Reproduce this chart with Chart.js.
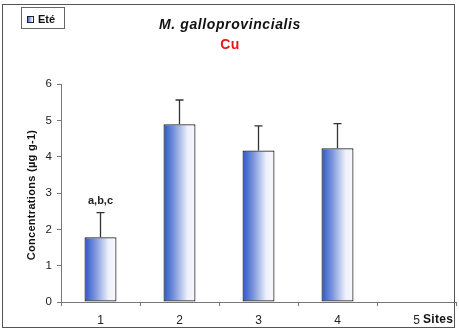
<!DOCTYPE html>
<html>
<head>
<meta charset="utf-8">
<script src="https://cdn.jsdelivr.net/npm/chart.js@4"></script>
<style>
html,body{margin:0;padding:0;background:#fff;}
#wrap{position:relative;width:459px;height:331px;}
</style>
</head>
<body>
<div id="wrap"><canvas id="c" width="459" height="331"></canvas></div>
<script>
const categories = ['1', '2', '3', '4', '5'];
const seriesLabel = 'Eté';
const values = [1.78, 4.89, 4.17, 4.23, null];
const errors = [0.68, 0.67, 0.68, 0.68, null];
const yTicks = [0, 1, 2, 3, 4, 5, 6];
const barNotes = ['a,b,c', '', '', '', ''];
const titleText = 'M. galloprovincialis';
const subtitleText = 'Cu';
const yTitle = 'Concentrations (µg g-1)';
const xTitle = 'Sites';

const FONT = '"Liberation Sans", Arial, sans-serif';
const BAR_PCT = 0.405;

function barGradient(ctx, x0, x1) {
  if (!isFinite(x0) || !isFinite(x1) || x1 <= x0) return '#6f8ad8';
  const g = ctx.createLinearGradient(x0, 0, x1, 0);
  g.addColorStop(0, '#2a56c8');
  g.addColorStop(0.35, '#7f98de');
  g.addColorStop(0.75, '#eef1fb');
  g.addColorStop(1, '#f8f9fe');
  return g;
}

const decor = {
  id: 'decor',
  afterDatasetsDraw(chart) {
    const ctx = chart.ctx;
    const meta = chart.getDatasetMeta(0);
    const y = chart.scales.y;
    ctx.save();
    meta.data.forEach((el, i) => {
      if (values[i] == null) return;
      const top = y.getPixelForValue(values[i] + errors[i]);
      ctx.strokeStyle = '#333';
      ctx.lineWidth = 1.3;
      ctx.beginPath();
      ctx.moveTo(el.x, el.y);
      ctx.lineTo(el.x, top);
      ctx.moveTo(el.x - 4, top);
      ctx.lineTo(el.x + 4, top);
      ctx.stroke();
      if (barNotes[i]) {
        ctx.fillStyle = '#222';
        ctx.font = 'bold 11px ' + FONT;
        ctx.textAlign = 'center';
        ctx.textBaseline = 'alphabetic';
        ctx.fillText(barNotes[i], el.x, top - 9);
      }
    });
    ctx.restore();
  },
  afterDraw(chart) {
    const ctx = chart.ctx;
    ctx.save();
    ctx.strokeStyle = '#555';
    ctx.lineWidth = 1;
    ctx.strokeRect(2.5, 4.5, 452, 323);
    ctx.textAlign = 'center';
    ctx.textBaseline = 'alphabetic';
    ctx.fillStyle = '#111';
    ctx.font = 'italic bold 14px ' + FONT;
    ctx.letterSpacing = '0.6px';
    ctx.fillText(titleText, 230, 29);
    ctx.fillStyle = '#e8141a';
    ctx.font = 'bold 14px ' + FONT;
    ctx.letterSpacing = '0.3px';
    ctx.fillText(subtitleText, 230, 49);
    ctx.letterSpacing = '0px';
    ctx.strokeStyle = '#666';
    ctx.strokeRect(21.5, 7.5, 43, 21);
    ctx.fillStyle = barGradient(ctx, 27, 34);
    ctx.fillRect(27, 17, 7, 6);
    ctx.strokeStyle = '#222';
    ctx.strokeRect(27.5, 16.5, 6, 6);
    ctx.fillStyle = '#111';
    ctx.font = 'bold 11px ' + FONT;
    ctx.textAlign = 'left';
    ctx.textBaseline = 'middle';
    ctx.fillText(seriesLabel, 38, 20);
    ctx.save();
    ctx.translate(32, 195);
    ctx.rotate(-Math.PI / 2);
    ctx.textAlign = 'center';
    ctx.textBaseline = 'middle';
    ctx.font = 'bold 11px ' + FONT;
    ctx.letterSpacing = '0.3px';
    ctx.fillStyle = '#111';
    ctx.fillText(yTitle, 0, 0);
    ctx.restore();
    ctx.font = 'bold 12px ' + FONT;
    ctx.letterSpacing = '0.3px';
    ctx.textAlign = 'left';
    ctx.textBaseline = 'middle';
    ctx.fillStyle = '#111';
    ctx.fillText(xTitle, 423, 320);
    ctx.restore();
  }
};

new Chart(document.getElementById('c'), {
  type: 'bar',
  data: {
    labels: categories,
    datasets: [{
      label: seriesLabel,
      data: values,
      backgroundColor: (c) => {
        const chart = c.chart;
        const x = chart.scales && chart.scales.x;
        if (!x || c.dataIndex == null || !x.width) return '#6f8ad8';
        const cx = x.getPixelForValue(c.dataIndex);
        const hw = (x.width / categories.length) * BAR_PCT / 2;
        return barGradient(chart.ctx, cx - hw, cx + hw);
      },
      borderColor: '#222',
      borderWidth: 1.2,
      borderSkipped: false,
      barPercentage: BAR_PCT,
      categoryPercentage: 1.0
    }]
  },
  options: {
    responsive: false,
    animation: false,
    events: [],
    layout: { padding: { left: 0, right: 3, top: 84, bottom: 0 } },
    plugins: { legend: { display: false }, title: { display: false }, tooltip: { enabled: false } },
    scales: {
      x: {
        offset: true,
        grid: { display: true, drawOnChartArea: false, offset: true, color: '#777', tickLength: 4 },
        border: { display: true, color: '#777', width: 1 },
        ticks: { color: '#222', font: { family: FONT, size: 12 }, padding: 7, maxRotation: 0 },
        afterFit: (s) => { s.height = 29; }
      },
      y: {
        min: 0, max: 6,
        afterBuildTicks: (s) => { s.ticks = yTicks.map(v => ({ value: v })); },
        grid: { display: true, drawOnChartArea: false, color: '#777', tickLength: 4 },
        border: { display: true, color: '#777', width: 1 },
        ticks: { color: '#222', font: { family: FONT, size: 11.5 }, padding: 5 },
        afterFit: (s) => { s.width = 61; }
      }
    }
  },
  plugins: [decor]
});
</script>
</body>
</html>
